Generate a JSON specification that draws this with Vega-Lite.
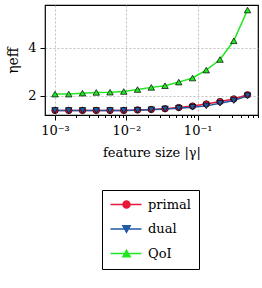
{
  "$schema": "https://vega.github.io/schema/vega-lite/v6.json",
  "autosize": "none",
  "width": 213,
  "height": 110,
  "padding": {"left": 45, "top": 5, "right": 4, "bottom": 173},
  "background": "white",
  "config": {
    "font": "DejaVu Serif",
    "view": {"stroke": "black", "strokeWidth": 1.2},
    "axis": {"labelFont": "DejaVu Serif", "titleFont": "DejaVu Serif", "labelColor": "black", "titleColor": "black", "titleFontWeight": "normal", "domain": false, "tickColor": "black", "gridColor": "#b0b0b0", "gridDash": [2, 2], "gridWidth": 0.8}
  },
  "data": {"values": [
    {"x": 0.001, "y": 1.39, "s": "primal"},
    {"x": 0.001559, "y": 1.39, "s": "primal"},
    {"x": 0.002429, "y": 1.39, "s": "primal"},
    {"x": 0.003789, "y": 1.39, "s": "primal"},
    {"x": 0.005904, "y": 1.39, "s": "primal"},
    {"x": 0.009204, "y": 1.39, "s": "primal"},
    {"x": 0.01435, "y": 1.41, "s": "primal"},
    {"x": 0.02237, "y": 1.43, "s": "primal"},
    {"x": 0.03485, "y": 1.46, "s": "primal"},
    {"x": 0.05433, "y": 1.51, "s": "primal"},
    {"x": 0.08469, "y": 1.57, "s": "primal"},
    {"x": 0.1320, "y": 1.66, "s": "primal"},
    {"x": 0.2058, "y": 1.76, "s": "primal"},
    {"x": 0.3208, "y": 1.87, "s": "primal"},
    {"x": 0.5, "y": 2.04, "s": "primal"},
    {"x": 0.001, "y": 1.39, "s": "dual"},
    {"x": 0.001559, "y": 1.39, "s": "dual"},
    {"x": 0.002429, "y": 1.39, "s": "dual"},
    {"x": 0.003789, "y": 1.39, "s": "dual"},
    {"x": 0.005904, "y": 1.39, "s": "dual"},
    {"x": 0.009204, "y": 1.39, "s": "dual"},
    {"x": 0.01435, "y": 1.40, "s": "dual"},
    {"x": 0.02237, "y": 1.42, "s": "dual"},
    {"x": 0.03485, "y": 1.45, "s": "dual"},
    {"x": 0.05433, "y": 1.48, "s": "dual"},
    {"x": 0.08469, "y": 1.52, "s": "dual"},
    {"x": 0.1320, "y": 1.58, "s": "dual"},
    {"x": 0.2058, "y": 1.69, "s": "dual"},
    {"x": 0.3208, "y": 1.80, "s": "dual"},
    {"x": 0.5, "y": 2.00, "s": "dual"},
    {"x": 0.001, "y": 2.07, "s": "QoI"},
    {"x": 0.001559, "y": 2.07, "s": "QoI"},
    {"x": 0.002429, "y": 2.11, "s": "QoI"},
    {"x": 0.003789, "y": 2.14, "s": "QoI"},
    {"x": 0.005904, "y": 2.15, "s": "QoI"},
    {"x": 0.009204, "y": 2.18, "s": "QoI"},
    {"x": 0.01435, "y": 2.26, "s": "QoI"},
    {"x": 0.02237, "y": 2.35, "s": "QoI"},
    {"x": 0.03485, "y": 2.42, "s": "QoI"},
    {"x": 0.05433, "y": 2.57, "s": "QoI"},
    {"x": 0.08469, "y": 2.74, "s": "QoI"},
    {"x": 0.1320, "y": 3.07, "s": "QoI"},
    {"x": 0.2058, "y": 3.51, "s": "QoI"},
    {"x": 0.3208, "y": 4.29, "s": "QoI"},
    {"x": 0.5, "y": 5.57, "s": "QoI"}
  ]},
  "encoding": {
    "x": {
      "field": "x", "type": "quantitative",
      "scale": {"type": "log", "domain": [0.000724, 0.701], "nice": false},
      "axis": {
        "title": "feature size |γ|", "titleFontSize": 13, "titlePadding": 9,
        "values": [0.001, 0.002, 0.003, 0.004, 0.005, 0.006, 0.007, 0.008, 0.009, 0.01, 0.02, 0.03, 0.04, 0.05, 0.06, 0.07, 0.08, 0.09, 0.1, 0.2, 0.3, 0.4, 0.5, 0.6, 0.7],
        "labelExpr": "abs(datum.value - 0.001) < 1e-9 ? '10⁻³' : abs(datum.value - 0.01) < 1e-9 ? '10⁻²' : abs(datum.value - 0.1) < 1e-9 ? '10⁻¹' : ''",
        "labelFontSize": 13, "labelPadding": 4,
        "tickSize": {"condition": {"test": "abs(datum.value - 0.001) < 1e-9 || abs(datum.value - 0.01) < 1e-9 || abs(datum.value - 0.1) < 1e-9", "value": 5}, "value": 2.5},
        "gridOpacity": {"condition": {"test": "abs(datum.value - 0.001) < 1e-9 || abs(datum.value - 0.01) < 1e-9 || abs(datum.value - 0.1) < 1e-9", "value": 1}, "value": 0}
      }
    },
    "y": {
      "field": "y", "type": "quantitative",
      "scale": {"domain": [1.2, 5.78], "nice": false, "zero": false},
      "axis": {"title": "ηeff", "titleFontSize": 14, "titlePadding": 7, "values": [2, 4], "labelFontSize": 13, "tickSize": 5, "labelPadding": 4}
    },
    "color": {
      "field": "s", "type": "nominal",
      "scale": {"domain": ["primal", "dual", "QoI"], "range": ["#e8173a", "#1f5aa6", "#22e622"]},
      "legend": {
        "title": null, "orient": "none", "legendX": 57, "legendY": 185,
        "strokeColor": "black", "fillColor": "white", "padding": 8,
        "symbolSize": 64, "labelFontSize": 13, "labelOffset": 25, "rowPadding": 10.5, "labelColor": "black",
        "symbolStrokeWidth": 1.5,
        "encode": {"symbols": {"update": {
          "shape": {"signal": "datum.value === 'primal' ? 'M-1.5,0H6.25M3.375,0A0.875,0.875 0 1 1 1.625,0A0.875,0.875 0 1 1 3.375,0Z' : datum.value === 'dual' ? 'M-1.5,0H6.25M1.6,-0.8L3.4,-0.8L2.5,0.8Z' : 'M-1.5,0H6.25M1.6,0.8L3.4,0.8L2.5,-0.8Z'"},
          "stroke": {"signal": "scale('color', datum.value)"},
          "fill": {"signal": "scale('color', datum.value)"},
          "strokeWidth": {"value": 1.5},
          "opacity": {"value": 1},
          "fillOpacity": {"value": 1}
        }}}
      }
    }
  },
  "layer": [
    {"mark": {"type": "line", "strokeWidth": 1.5}},
    {"transform": [{"filter": "datum.s === 'primal'"}],
     "mark": {"type": "point", "shape": "circle", "filled": true, "size": 42, "stroke": "black", "strokeWidth": 0.7, "opacity": 1}},
    {"transform": [{"filter": "datum.s === 'dual'"}],
     "mark": {"type": "point", "shape": "triangle-down", "filled": true, "size": 42, "stroke": "black", "strokeWidth": 0.7, "opacity": 1}},
    {"transform": [{"filter": "datum.s === 'QoI'"}],
     "mark": {"type": "point", "shape": "triangle-up", "filled": true, "size": 42, "stroke": "black", "strokeWidth": 0.7, "opacity": 1}}
  ]
}
